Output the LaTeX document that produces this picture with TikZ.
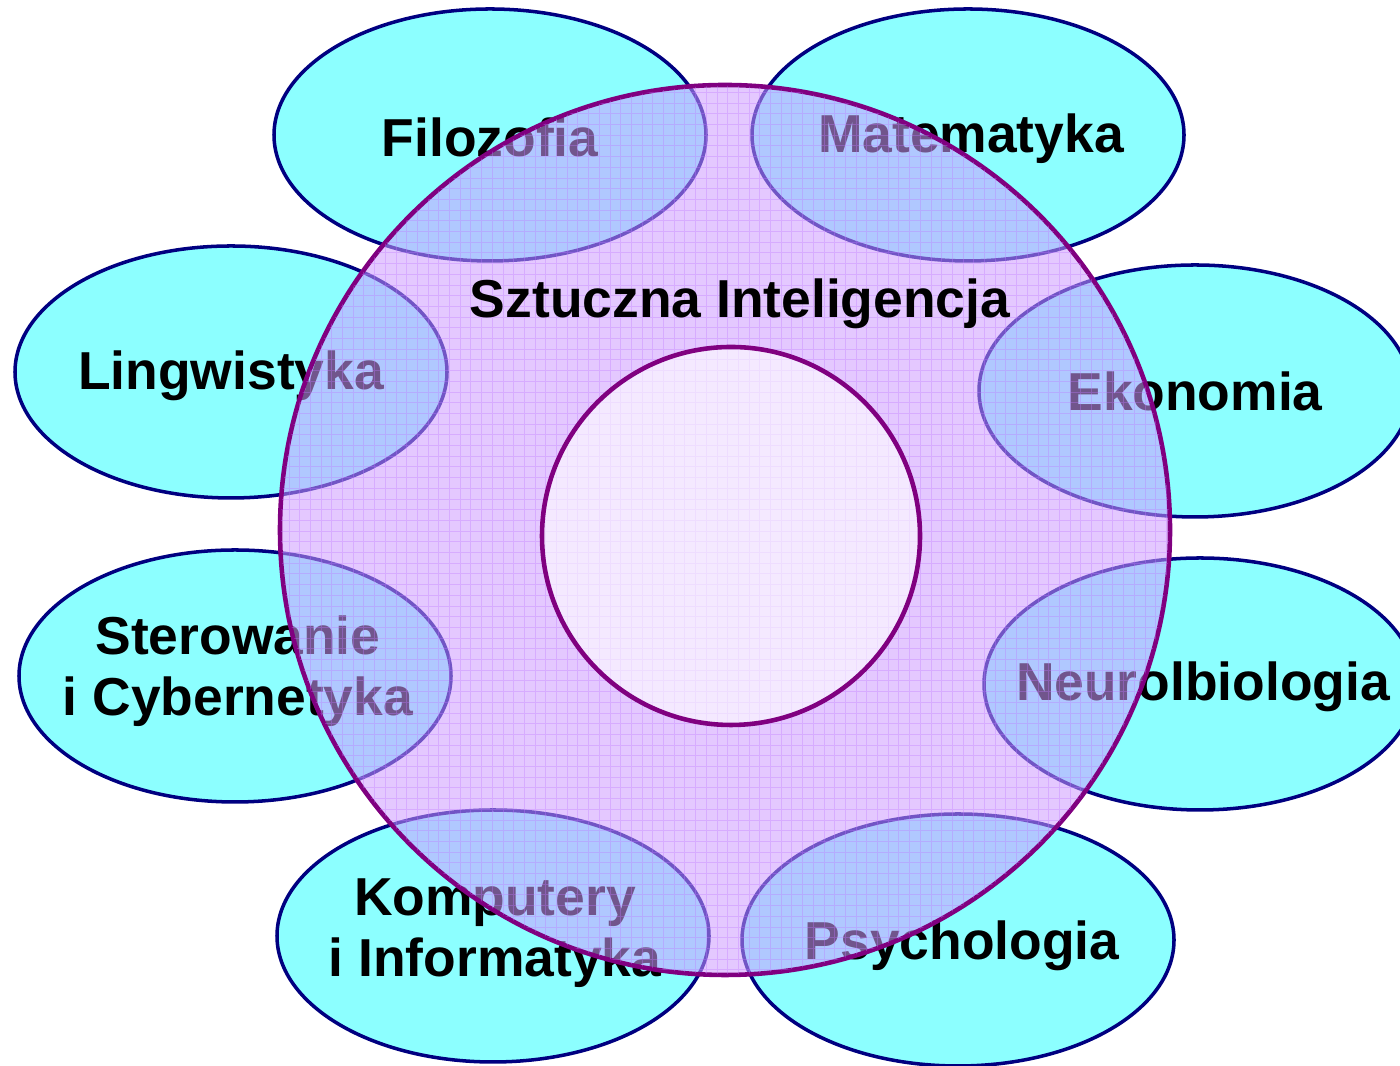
\documentclass[tikz,border=0pt]{standalone}
\usepackage{fontspec}
\setmainfont{Liberation Sans}
\usepackage{tikz}
\usetikzlibrary{positioning, shapes.geometric}
\definecolor{fieldCyan}{RGB}{140, 255, 255}
\definecolor{fieldNavy}{RGB}{0, 0, 128}
\definecolor{aiPurple}{RGB}{128, 0, 128}
\definecolor{aiLilac}{RGB}{206, 155, 255}
\definecolor{aiGrid}{RGB}{190, 120, 255}

\begin{document}
\begin{tikzpicture}[
    field/.style={ellipse, draw=fieldNavy, fill=fieldCyan, line width=1pt,
                  minimum width=4.32cm, minimum height=2.52cm, inner sep=0pt},
    fieldtext/.style={font=\fontsize{15.2}{17.5}\selectfont\bfseries, align=center, inner sep=0pt},
    aicircle/.style={circle, draw=aiPurple, line width=1.3pt, inner sep=0pt},
  ]
    \useasboundingbox (0,0) rectangle (14,10.66);

    % dziedziny
    \node[field] (fil) at (4.90, 9.31) {};
    \node[field] (mat) at (9.68, 9.31) {};
    \node[field] (lin) at (2.31, 6.94) {};
    \node[field] (eko) at (11.95, 6.75) {};
    \node[field] (ste) at (2.35, 3.90) {};
    \node[field] (neu) at (12.00, 3.82) {};
    \node[field] (kom) at (4.93, 1.30) {};
    \node[field] (psy) at (9.58, 1.26) {};

    \node[fieldtext] at ([yshift=-0.02cm]fil) {Filozofia};
    \node[fieldtext] at ([xshift=0.03cm, yshift=-0.04cm]mat) {Matematyka};
    \node[fieldtext] at ([yshift=-0.04cm]lin) {Lingwistyka};
    \node[fieldtext] at ([yshift=0.00cm]eko) {Ekonomia};
    \node[fieldtext] at ([xshift=0.03cm, yshift=0.05cm]ste) {Sterowanie\\i Cybernetyka};
    \node[fieldtext] at ([xshift=0.03cm, yshift=-0.03cm]neu) {Neurolbiologia};
    \node[fieldtext] at ([xshift=0.02cm, yshift=0.03cm]kom) {Komputery\\i Informatyka};
    \node[fieldtext] at ([xshift=0.04cm, yshift=-0.06cm]psy) {Psychologia};

    % sztuczna inteligencja
    \node[aicircle, fill=aiLilac, fill opacity=0.55, minimum size=8.9cm] (ai) at (7.25, 5.36) {};
    \begin{scope}
      \clip (ai.center) circle (4.44);
      \draw[aiGrid, opacity=0.35, line width=0.2pt, step=0.107] (2.8,0.9) grid (11.7,9.9);
    \end{scope}
    \node[aicircle, fill=white, fill opacity=0.6, minimum size=3.78cm] (core) at (7.31, 5.30) {};
    \node[fieldtext] (title) at (7.40, 7.62) {Sztuczna Inteligencja};
  \end{tikzpicture}
\end{document}
